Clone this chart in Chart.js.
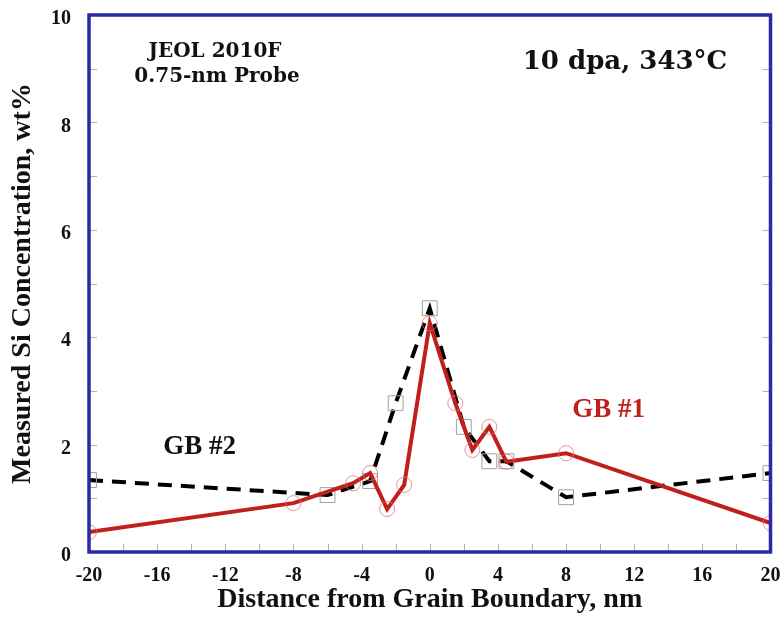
<!DOCTYPE html>
<html>
<head>
<meta charset="utf-8">
<script src="https://cdn.jsdelivr.net/npm/chart.js@4.4.1/dist/chart.umd.min.js"></script>
<style>
  body { margin: 0; background: #fff; }
</style>
</head>
<body>
<canvas id="si-chart" width="782" height="621"></canvas>
<script>
// GB #1 (red, solid)
var gb1X = [-20, -8, -4.5, -3.5, -2.5, -1.5, 0, 1.5, 2.5, 3.5, 4.5, 8, 20];
var gb1Y = [0.37, 0.91, 1.28, 1.47, 0.80, 1.25, 4.26, 2.77, 1.90, 2.33, 1.68, 1.84, 0.54];
// GB #2 (black, dashed)
var gb2X = [-20, -6, -3.5, -2, 0, 2, 3.5, 4.5, 8, 20];
var gb2Y = [1.34, 1.06, 1.32, 2.77, 4.54, 2.33, 1.69, 1.69, 1.02, 1.47];
// axis ranges
var xRange = [-20, 20];
var yRange = [0, 10];

function pts(xs, ys) {
  return xs.map(function (x, i) { return { x: x, y: ys[i] }; });
}

var serif = "'Liberation Serif', 'Times New Roman', serif";
var frameBlue = "#2a2aa6";

// frame, inner ticks and text notes
var decor = {
  id: 'decor',
  afterDraw: function (chart) {
    var ctx = chart.ctx, a = chart.chartArea;
    var xs = chart.scales.x, ys = chart.scales.y;
    ctx.save();
    // minor ticks
    ctx.strokeStyle = "#a9addf";
    ctx.lineWidth = 1;
    ctx.beginPath();
    for (var v = xRange[0] + 2; v < xRange[1]; v += 2) {
      var px = Math.round(xs.getPixelForValue(v)) + 0.5;
      ctx.moveTo(px, a.bottom);
      ctx.lineTo(px, a.bottom - 8);
    }
    for (var w = yRange[0] + 1; w < yRange[1]; w += 1) {
      var py = Math.round(ys.getPixelForValue(w)) + 0.5;
      ctx.moveTo(a.left, py);
      ctx.lineTo(a.left + 8, py);
      ctx.moveTo(a.right, py);
      ctx.lineTo(a.right - 8, py);
    }
    ctx.stroke();
    // blue frame
    ctx.strokeStyle = frameBlue;
    ctx.lineWidth = 3.5;
    ctx.strokeRect(a.left, a.top, a.right - a.left, a.bottom - a.top);

    // notes
    ctx.textAlign = 'center';
    ctx.textBaseline = 'middle';
    ctx.fillStyle = '#111';
    ctx.font = "bold 20px 'DejaVu Serif', serif";
    ctx.fillText('JEOL 2010F', 215, 52);
    ctx.fillText('0.75-nm Probe', 217, 77);
    ctx.font = "bold 26px 'DejaVu Serif', serif";
    ctx.fillText('10 dpa, 343\u00B0C', 625, 62);

    ctx.font = "bold 27px " + serif;
    ctx.fillStyle = '#111';
    ctx.fillText('GB #2', xs.getPixelForValue(-13.5), ys.getPixelForValue(1.96));
    ctx.fillStyle = '#c0201c';
    ctx.fillText('GB #1', xs.getPixelForValue(10.5), ys.getPixelForValue(2.64));
    ctx.restore();
  }
};

var chart = new Chart(document.getElementById("si-chart"), {
  type: 'line',
  data: {
    datasets: [
      {
        label: 'GB #2',
        data: pts(gb2X, gb2Y),
        borderColor: '#000',
        borderWidth: 4,
        borderDash: [14, 9],
        pointStyle: 'rect',
        pointRadius: 10.5,
        pointBorderWidth: 1,
        pointBorderColor: '#a0a0a0',
        pointBackgroundColor: 'rgba(0,0,0,0)',
        tension: 0,
        order: 2
      },
      {
        label: 'GB #1',
        data: pts(gb1X, gb1Y),
        borderColor: '#c0201c',
        borderWidth: 4,
        pointStyle: 'circle',
        pointRadius: 7.5,
        pointBorderWidth: 1,
        pointBorderColor: 'rgba(232,110,110,0.75)',
        pointBackgroundColor: 'rgba(0,0,0,0)',
        tension: 0,
        order: 1
      }
    ]
  },
  options: {
    responsive: false,
    animation: false,
    layout: { padding: { top: 15, right: 11, left: 0, bottom: 0 } },
    plugins: {
      legend: { display: false },
      tooltip: { enabled: false }
    },
    scales: {
      x: {
        type: 'linear',
        min: xRange[0],
        max: xRange[1],
        grid: { display: false, drawTicks: false },
        border: { display: false },
        ticks: {
          stepSize: 4,
          autoSkip: false,
          maxRotation: 0,
          padding: 12,
          color: '#111',
          font: { family: serif, size: 20, weight: 'bold' }
        },
        title: {
          display: true,
          text: 'Distance from Grain Boundary, nm',
          color: '#111',
          font: { family: serif, size: 28, weight: 'bold' },
          padding: { top: 0, bottom: 4 }
        },
        afterFit: function (s) { s.height = 69; s.paddingLeft = 0; s.paddingRight = 0; }
      },
      y: {
        min: yRange[0],
        max: yRange[1],
        grid: { display: false, drawTicks: false },
        border: { display: false },
        ticks: {
          stepSize: 2,
          padding: 18,
          labelOffset: 4,
          color: '#111',
          font: { family: serif, size: 20, weight: 'bold' }
        },
        title: {
          display: true,
          text: 'Measured Si Concentration, wt%',
          color: '#111',
          font: { family: serif, size: 28, weight: 'bold' },
          padding: { top: 6, bottom: 0 }
        },
        afterFit: function (s) { s.width = 89; s.paddingTop = 0; s.paddingBottom = 0; }
      }
    }
  },
  plugins: [decor]
});
</script>
</body>
</html>
